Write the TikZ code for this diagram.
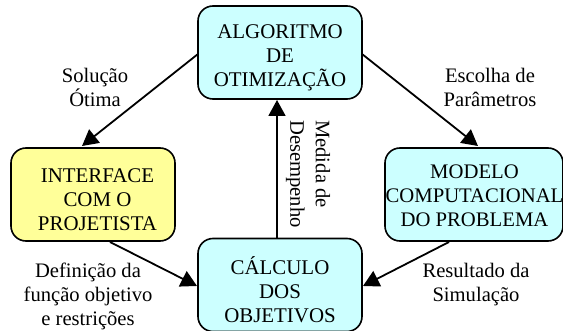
\documentclass[tikz,border=0pt]{standalone}
\usepackage{fontspec}
\setmainfont{Liberation Serif}
\usetikzlibrary{arrows.meta}
\definecolor{boxcyan}{HTML}{CCFFFF}
\definecolor{boxyellow}{HTML}{FFFF99}
\tikzset{
  x=1pt,y=-1pt,
  boxstyle/.style={draw=black,line width=1.6pt,rounded corners=15pt,minimum width=164pt,minimum height=93pt,inner sep=0pt},
  cyanbox/.style={boxstyle,fill=boxcyan},
  yellowbox/.style={boxstyle,fill=boxyellow},
  boxtext/.style={inner sep=0pt,align=center,font=\fontsize{20.9}{24}\selectfont},
  lab/.style={inner sep=0pt,align=center,font=\fontsize{20.6}{24}\selectfont},
  vlab/.style={inner sep=0pt,align=left,rotate=-90,font=\fontsize{20.6}{25.5}\selectfont},
  conn/.style={draw=black,line width=1.8pt,-{Triangle[length=16pt,width=17pt]}}
}
\begin{document}
\begin{tikzpicture}
\useasboundingbox (0,0) rectangle (563,331);
\fill[white] (0,0) rectangle (563,331);
\node[cyanbox] (alg) at (280,52.5) {};
\node[yellowbox] (int) at (93,194.5) {};
\node[cyanbox,minimum width=178pt] (mod) at (474,194.5) {};
\node[cyanbox] (cal) at (280,285) {};
\node[boxtext] (algt) at (280,57.5) {ALGORITMO\\DE\\OTIMIZAÇÃO};
\node[boxtext] (intt) at (97.5,199.5) {INTERFACE\\COM O\\PROJETISTA};
\node[boxtext,font=\fontsize{20.7}{24}\selectfont] (modt) at (474.5,195.5) {MODELO\\COMPUTACIONAL\\DO PROBLEMA};
\node[boxtext] (calt) at (280,289.5) {CÁLCULO\\DOS\\OBJETIVOS};
\coordinate (a1) at (198,54);
\coordinate (i1) at (82,146);
\coordinate (a2) at (362,54);
\coordinate (m1) at (478,146);
\coordinate (i2) at (110,242);
\coordinate (c1) at (197,286);
\coordinate (m2) at (449,242);
\coordinate (c2) at (363,286);
\coordinate (c3) at (277,238);
\coordinate (a3) at (277,100);
\draw[conn] (a1) -- (i1);
\draw[conn] (a2) -- (m1);
\draw[conn] (i2) -- (c1);
\draw[conn] (m2) -- (c2);
\draw[conn] (c3) -- (a3);
\node[lab] (l1) at (95,87) {Solução\\Ótima};
\node[lab] (l2) at (490,87) {Escolha de\\Parâmetros};
\node[vlab] (l3) at (308,174) {Medida de\\Desempenho};
\node[lab] (l4) at (88,296) {Definição da\\função objetivo\\e restrições};
\node[lab] (l5) at (476,284.5) {Resultado da\\Simulação};
\end{tikzpicture}
\end{document}
